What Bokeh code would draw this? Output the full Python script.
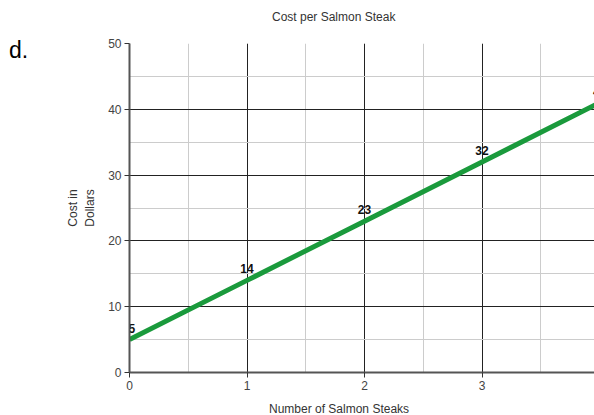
from bokeh.plotting import figure
from bokeh.layouts import row, column
from bokeh.models import Range1d, SingleIntervalTicker, ColumnDataSource, Div
from bokeh.core.properties import value
from bokeh.embed import file_html
from bokeh.resources import INLINE

steaks = [0, 1, 2, 3, 4]
cost = [5, 14, 23, 32, 41]
labels = [str(c) for c in cost]

title_text = "Cost per Salmon Steak"
x_title = "Number of Salmon Steaks"
y_title = "Cost in\nDollars"
marker_text = "d."

FONT = "Liberation Sans"


def text_div(txt, w, h, left, top, size, color="#333333"):
    html = ('<div style="position:absolute;left:%spx;top:%spx;font-family:\'%s\';'
            'font-size:%spx;line-height:%spx;color:%s;white-space:nowrap;">%s</div>'
            % (left, top, FONT, size, size, color, txt))
    return Div(text=html, width=w, height=h, margin=0,
               styles={"position": "relative", "overflow": "visible"})


top_div = text_div(title_text, 594, 30, 272, 10.8, 12)
left_div = text_div(marker_text, 60, 365, 9, 8.5, 23, "#000000")
bottom_div = text_div(x_title, 594, 20, 269, 7.8, 12)

p = figure(width=534, height=365, output_backend="svg", toolbar_location=None,
           title=None,
           x_range=Range1d(0, 3.957), y_range=Range1d(0, 50),
           min_border_left=69, min_border_right=0, min_border_top=13, min_border_bottom=23)
p.outline_line_color = None
p.background_fill_color = "white"
p.border_fill_color = "white"

p.xaxis.ticker = SingleIntervalTicker(interval=1, num_minor_ticks=2)
p.yaxis.ticker = SingleIntervalTicker(interval=10, num_minor_ticks=2)

for ax in (p.xaxis, p.yaxis):
    ax.axis_line_color = "#555555"
    ax.axis_line_width = 2
    ax.major_tick_line_color = "#333333"
    ax.major_tick_out = 5
    ax.major_tick_in = 0
    ax.minor_tick_out = 0
    ax.minor_tick_in = 0
    ax.major_label_text_font = FONT
    ax.major_label_text_font_size = "12px"
    ax.major_label_text_color = "#444444"
    ax.major_label_standoff = 3

p.yaxis.axis_label = y_title
p.yaxis.axis_label_text_font = FONT
p.yaxis.axis_label_text_font_size = "12px"
p.yaxis.axis_label_text_font_style = "normal"
p.yaxis.axis_label_text_color = "#333333"
p.yaxis.axis_label_standoff = 8

p.xgrid.grid_line_color = "#222222"
p.ygrid.grid_line_color = "#222222"
p.xgrid.grid_line_width = 1
p.ygrid.grid_line_width = 1
p.xgrid.minor_grid_line_color = "#cccccc"
p.ygrid.minor_grid_line_color = "#cccccc"

src = ColumnDataSource(dict(x=steaks, y=cost, t=labels))
first = ColumnDataSource(dict(x=steaks[:1], y=cost[:1], t=labels[:1]))
rest = ColumnDataSource(dict(x=steaks[1:], y=cost[1:], t=labels[1:]))

p.line("x", "y", source=src, line_color="#1a9a3c", line_width=5)
common = dict(text_font=value(FONT), text_font_size="12px", text_font_style="bold",
              text_color="#111111", text_baseline="bottom", y_offset=-7)
p.text("x", "y", text="t", source=rest, text_align="center", **common)
p.text("x", "y", text="t", source=first, text_align="left", x_offset=-1, **common)

layout = column(top_div, row(left_div, p, spacing=0), bottom_div, spacing=0)
open("out.html", "w").write(file_html(layout, INLINE))
